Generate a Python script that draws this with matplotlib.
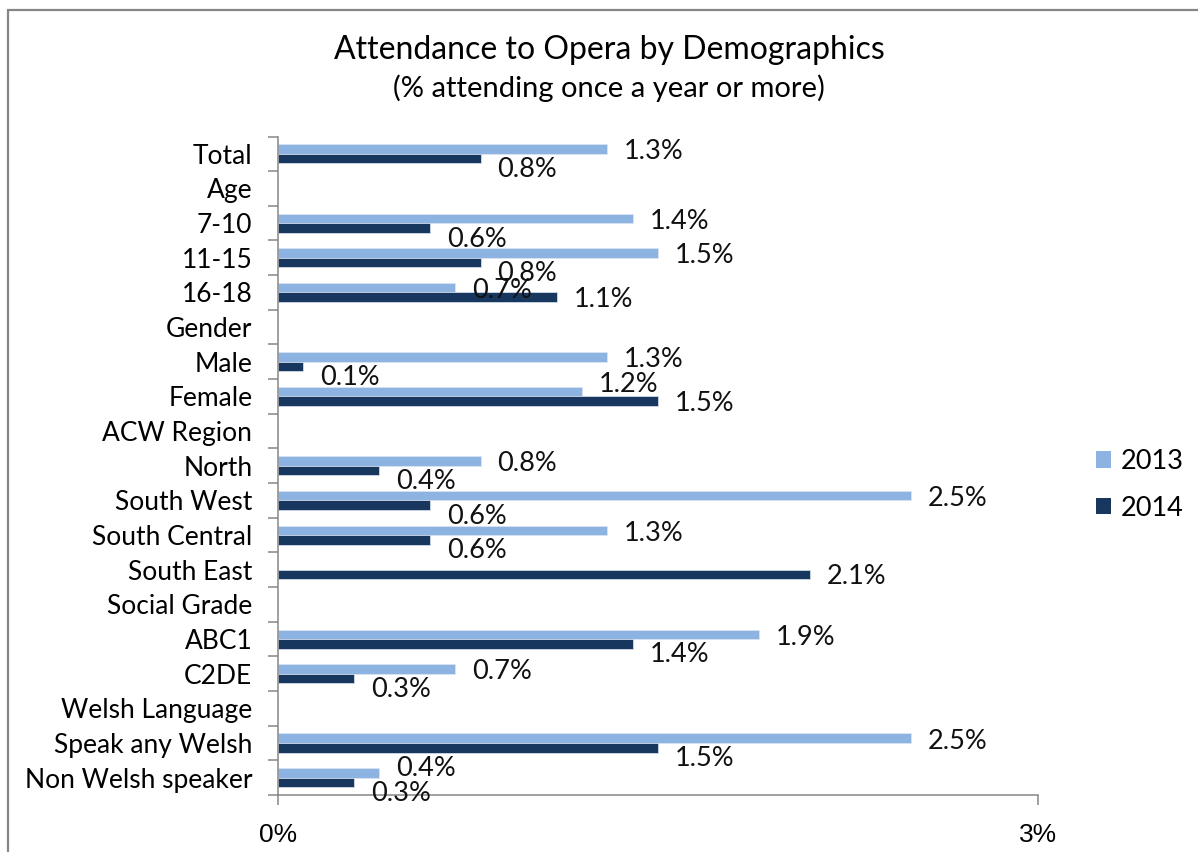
import numpy as np
import matplotlib
matplotlib.use('Agg')
import matplotlib.pyplot as plt
from matplotlib.patches import Rectangle, Patch

categories = ['Total', 'Age', '7-10', '11-15', '16-18', 'Gender', 'Male', 'Female',
              'ACW Region', 'North', 'South West', 'South Central', 'South East',
              'Social Grade', 'ABC1', 'C2DE', 'Welsh Language', 'Speak any Welsh',
              'Non Welsh speaker']
# None = no value (heading rows / missing)
vals_2013 = [1.3, None, 1.4, 1.5, 0.7, None, 1.3, 1.2, None, 0.8, 2.5, 1.3, None,
             None, 1.9, 0.7, None, 2.5, 0.4]
vals_2014 = [0.8, None, 0.6, 0.8, 1.1, None, 0.1, 1.5, None, 0.4, 0.6, 0.6, 2.1,
             None, 1.4, 0.3, None, 1.5, 0.3]
x_ticks = [0, 3]
x_tick_labels = ['0%', '3%']

c13 = '#8db3e2'
c14 = '#17375e'
grey = '#868686'
lab_font = 'Lato'

fig = plt.figure(figsize=(11.98, 8.52), dpi=100)
ax = fig.add_axes([278 / 1198, 1 - 795 / 852, (1038 - 278) / 1198, (795 - 136.5) / 852])

# outer chart border (clipped at right / bottom like the original)
fig.patches.append(Rectangle((8 / 1198, -0.1), 1.2, 1 - 10 / 852 + 0.1, transform=fig.transFigure,
                             fill=False, edgecolor=grey, linewidth=1.6))

y = np.arange(len(categories))
h = 0.275
v13 = np.array([np.nan if v is None else v for v in vals_2013])
v14 = np.array([np.nan if v is None else v for v in vals_2014])
ax.barh(y - h / 2, np.nan_to_num(v13), height=h, color=c13, edgecolor='#dce6f2', linewidth=0.5, label='2013')
ax.barh(y + h / 2, np.nan_to_num(v14), height=h, color=c14, edgecolor='#dce6f2', linewidth=0.5, label='2014')

# data labels, nudged apart the way Excel does it
for i in range(len(categories)):
    a, b = v13[i], v14[i]
    off13, off14 = -2, -1.5
    if not np.isnan(a) and not np.isnan(b):
        if a > b:
            off14 = -8
            if a - b < 0.2:
                off13 = 3
        elif b - a < 0.4:
            off13 = 5
    if not np.isnan(a) and a > 0:
        ax.annotate(f'{a:.1f}%', (a, y[i] - h / 2), xytext=(12, off13), textcoords='offset points',
                    va='center', ha='left', fontsize=19.5, family=lab_font, color='#111111')
    if not np.isnan(b) and b > 0:
        ax.annotate(f'{b:.1f}%', (b, y[i] + h / 2), xytext=(12, off14), textcoords='offset points',
                    va='center', ha='left', fontsize=19.5, family=lab_font, color='#111111')

ax.set_xlim(0, 3)
ax.set_ylim(len(categories) - 0.5, -0.5)

ax.set_xticks(x_ticks)
ax.set_xticklabels(x_tick_labels, family='Liberation Sans', fontsize=19)
ax.tick_params(axis='x', direction='out', length=7, width=1.1, color=grey, pad=13)

ax.set_yticks(np.arange(len(categories) + 1) - 0.5)
ax.set_yticklabels([])
ax.set_yticks(y, minor=True)
ax.set_yticklabels(categories, minor=True, family=lab_font, fontsize=19)
ax.tick_params(axis='y', which='major', direction='out', length=7, width=1.1, color=grey)
ax.tick_params(axis='y', which='minor', length=0, pad=18.5)

for s in ['top', 'right']:
    ax.spines[s].set_visible(False)
for s in ['left', 'bottom']:
    ax.spines[s].set_color(grey)
    ax.spines[s].set_linewidth(1.1)

fig.text(609 / 1198, 1 - 50 / 852, 'Attendance to Opera by Demographics', ha='center', va='center',
         family=lab_font, fontsize=23)
fig.text(609 / 1198, 1 - 88 / 852, '(% attending once a year or more)', ha='center', va='center',
         family=lab_font, fontsize=21)

handles = [Patch(facecolor=c13), Patch(facecolor=c14)]
fig.legend(handles, ['2013', '2014'], loc='center left', bbox_to_anchor=(1096 / 1198, 1 - 485 / 852),
           bbox_transform=fig.transFigure, frameon=False, borderpad=0, borderaxespad=0,
           handlelength=0.55, handleheight=0.55, handletextpad=0.35, labelspacing=0.8,
           prop={'family': lab_font, 'size': 19.5})

fig.savefig('out.png', dpi=100)
